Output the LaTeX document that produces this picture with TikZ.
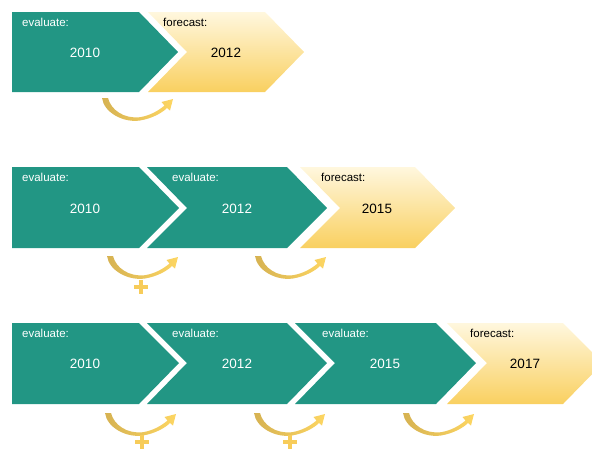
\documentclass[tikz,border=0pt]{standalone}
\usepackage{fontspec}
\setmainfont{Liberation Sans}
\definecolor{tealc}{RGB}{34,150,132}
\definecolor{ylight}{RGB}{255,247,222}
\definecolor{ydark}{RGB}{249,208,96}
\definecolor{adark}{RGB}{214,178,82}
\definecolor{amid}{RGB}{250,222,128}
\definecolor{alight}{RGB}{253,214,98}
\definecolor{plusc}{RGB}{247,204,90}
\tikzset{
  tealbox/.style={fill=tealc},
  yelbox/.style={top color=ylight, bottom color=ydark},
  lbl/.style={anchor=base west, inner sep=0pt, font=\fontsize{11.5}{13}\selectfont},
  num/.style={anchor=center, inner sep=0pt, font=\fontsize{13.5}{15}\selectfont},
  curvarrow/.pic={
    \shade[left color=adark, middle color=amid, right color=alight]
      (0,0) .. controls (2,15) and (22,25) .. (38,22.5)
            .. controls (50,20.5) and (60,15) .. (65,10)
      -- (68,12.5) -- (71,1) -- (59.5,4) -- (62.5,7.5)
            .. controls (56,13) and (48,17.5) .. (38,19.2)
            .. controls (22,21) and (9,12) .. (6,0) -- cycle;
  },
  plussign/.pic={
    \fill[plusc] (-7,-2.3) rectangle (7,2.3);
    \fill[plusc] (-2.3,-7) rectangle (2.3,7);
  }
}
\begin{document}
\begin{tikzpicture}[x=1pt,y=-1pt]
\useasboundingbox (0,0) rectangle (592,451);
\clip (0,0) rectangle (592,451);
% Row 1
\fill[tealbox] (12,12) -- (139,12) -- (178,52) -- (139,92) -- (12,92) -- cycle;
\shade[yelbox] (148,12) -- (265,12) -- (304,52) -- (265,92) -- (148,92) -- (187,52) -- cycle;
\node[lbl, text=white] (r1e1) at (22,26) {evaluate:};
\node[num, text=white] (r1n1) at (85,53) {2010};
\node[lbl, text=black] (r1f) at (163,26) {forecast:};
\node[num, text=black] (r1n2) at (226,53) {2012};
\pic at (102,98) {curvarrow};
% Row 2
\fill[tealbox] (12,167) -- (139,167) -- (179,208) -- (139,248) -- (12,248) -- cycle;
\fill[tealbox] (147,167) -- (287,167) -- (327,208) -- (287,248) -- (147,248) -- (187,208) -- cycle;
\shade[yelbox] (300,167) -- (415,167) -- (455,208) -- (415,248) -- (300,248) -- (340,208) -- cycle;
\node[lbl, text=white] (r2e1) at (22,181) {evaluate:};
\node[num, text=white] (r2n1) at (85,209) {2010};
\node[lbl, text=white] (r2e2) at (172,181) {evaluate:};
\node[num, text=white] (r2n2) at (237,209) {2012};
\node[lbl, text=black] (r2f) at (321,181) {forecast:};
\node[num, text=black] (r2n3) at (377,209) {2015};
\pic at (107,256) {curvarrow};
\pic at (255,256) {curvarrow};
\pic at (141,287) {plussign};
% Row 3
\fill[tealbox] (12,323) -- (139,323) -- (179,363) -- (139,404) -- (12,404) -- cycle;
\fill[tealbox] (147,323) -- (287,323) -- (327,363) -- (287,404) -- (147,404) -- (187,363) -- cycle;
\fill[tealbox] (295,323) -- (436,323) -- (476,363) -- (436,404) -- (295,404) -- (335,363) -- cycle;
\shade[yelbox] (447,323) -- (563,323) -- (603,363) -- (563,404) -- (447,404) -- (487,363) -- cycle;
\node[lbl, text=white] (r3e1) at (22,337) {evaluate:};
\node[num, text=white] (r3n1) at (85,364) {2010};
\node[lbl, text=white] (r3e2) at (172,337) {evaluate:};
\node[num, text=white] (r3n2) at (237,364) {2012};
\node[lbl, text=white] (r3e3) at (322,337) {evaluate:};
\node[num, text=white] (r3n3) at (385,364) {2015};
\node[lbl, text=black] (r3f) at (470,337) {forecast:};
\node[num, text=black] (r3n4) at (525,364) {2017};
\pic at (105,413) {curvarrow};
\pic at (254,413) {curvarrow};
\pic at (403,413) {curvarrow};
\pic at (142,442) {plussign};
\pic at (290,442) {plussign};
\end{tikzpicture}
\end{document}
